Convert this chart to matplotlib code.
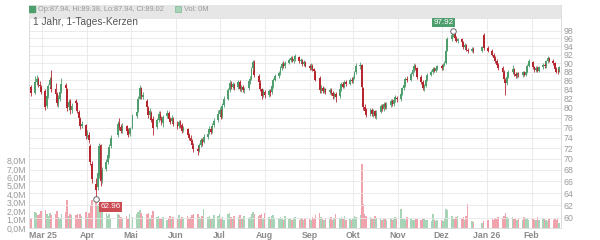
import datetime as dt
import matplotlib
matplotlib.use("Agg")
import matplotlib.pyplot as plt
import matplotlib.dates as mdates
import matplotlib.ticker as mtick
import numpy as np
import pandas as pd

plt.rcParams['font.family'] = ['Liberation Sans', 'DejaVu Sans']

# one row per trading week
opens = [
    84.5,
    83.3, 85.6, 86.3, 85.0, 84.6,
    83.6, 80.5, 82.6, 85.0, 86.5,
    84.0, 83.0, 80.8, 82.0, 83.6,
    85.0, 84.0, 80.2, 81.5, 79.5,
    81.5, 81.0, 79.2, 77.8, 76.3,
    76.5, 74.5, 74.6, 72.5, 69.0,
    65.5, 65.0, 67.0, 72.6, 66.2,
    68.2, 69.4, 70.6, 72.4,
    74.5, 77.0, 76.2, 75.4,
    76.3, 75.3, 74.8, 76.0,
    78.4, 79.5, 82.0, 84.2, 82.4,
    81.5, 80.0, 78.5, 79.0, 77.8,
    76.2, 77.6, 78.8, 77.8, 77.0,
    78.4, 79.0, 77.8, 77.4, 77.8,
    76.8, 76.3, 77.2, 76.5, 75.5,
    75.8, 74.6, 74.0, 73.3, 72.5,
    71.9, 71.6, 72.6, 73.5, 73.2,
    74.2, 75.0, 75.8, 75.3, 76.5,
    77.5, 78.8, 79.5, 78.3, 80.6,
    82.0, 83.8, 85.3, 84.6, 85.0,
    84.5, 85.6, 84.0, 84.6, 83.8,
    84.2, 85.8, 86.3, 88.8, 90.3,
    87.0, 85.5, 84.0, 82.8, 83.4,
    82.8, 83.6, 83.4, 84.8, 86.2,
    87.0, 87.6, 88.8, 89.8, 89.2,
    90.0, 90.8, 91.2, 90.6, 91.0,
    91.4, 90.4, 90.8, 89.8, 90.3,
    89.4, 88.8, 89.4, 88.6, 88.0,
    86.5, 83.8, 84.2, 83.6, 84.0,
    83.4, 83.8, 83.2, 82.6, 83.0,
    82.6, 84.0, 85.2, 84.6, 85.6,
    85.3, 86.2, 85.8, 86.6, 87.8,
    89.2, 89.5, 84.2, 80.2, 79.5,
    78.8, 79.5, 78.8, 79.3, 78.4,
    79.2, 80.4, 79.8, 80.8, 80.2,
    80.6, 81.4, 80.9, 81.6, 82.2,
    81.9, 83.0, 84.2, 85.0, 86.4,
    86.2, 87.4, 88.4, 89.4, 88.8,
    86.8, 85.6, 84.2, 84.8, 86.2,
    87.2, 87.8, 88.6, 88.2, 88.8,
    89.2, 88.8, 89.6, 90.0, 93.0,
    95.8, 96.8, 97.2, 96.0, 95.4,
    95.8, 95.0, 93.9, 94.4, 93.2,
    93.0, 93.4, 93.0, 96.8,
    93.6, 93.0, 92.0, 91.2, 90.6, 89.6,
    88.8, 88.0, 86.2, 85.4, 86.8,
    87.8, 88.6, 87.4, 87.0, 87.6,
    87.2, 87.8, 87.3, 88.0, 89.4,
    90.2, 89.0, 88.4, 88.9, 88.2,
    89.0, 89.6, 89.2, 90.4, 91.2,
    90.6, 90.0, 88.6, 88.0, 87.94,
]
highs = [
    85.0,
    87.0, 87.3, 86.8, 85.8, 85.0,
    84.0, 83.0, 85.3, 86.8, 88.4,
    85.5, 83.5, 82.8, 84.2, 86.5,
    85.5, 84.3, 81.8, 81.8, 81.0,
    82.0, 81.3, 79.5, 78.2, 77.4,
    76.8, 75.6, 75.1, 72.8, 69.6,
    66.6, 68.0, 73.0, 72.8, 68.6,
    70.0, 71.3, 72.8, 74.6,
    77.4, 78.0, 76.8, 76.9,
    76.6, 75.9, 76.2, 78.8,
    79.8, 82.5, 85.0, 84.6, 83.5,
    82.0, 80.4, 79.9, 79.4, 78.4,
    78.0, 79.4, 79.3, 78.3, 78.6,
    79.6, 79.3, 78.1, 78.5, 78.2,
    77.3, 77.6, 77.5, 76.9, 76.4,
    76.0, 75.0, 74.5, 73.7, 72.9,
    72.5, 73.0, 74.0, 74.0, 74.8,
    75.4, 76.3, 76.2, 76.9, 77.9,
    79.5, 80.2, 79.8, 81.0, 82.5,
    84.3, 86.0, 85.8, 85.7, 85.4,
    86.2, 86.0, 85.0, 85.0, 84.6,
    86.3, 87.0, 89.0, 90.8, 90.7,
    87.4, 86.0, 84.4, 84.1, 83.9,
    84.0, 84.0, 85.2, 86.6, 87.5,
    88.2, 89.3, 90.3, 90.4, 90.6,
    91.3, 91.8, 91.6, 91.5, 92.2,
    91.7, 91.2, 91.0, 90.7, 90.6,
    89.8, 89.9, 89.7, 88.9, 88.4,
    86.9, 84.9, 84.7, 84.6, 84.4,
    84.3, 84.2, 83.6, 83.5, 83.4,
    84.4, 85.6, 85.7, 86.0, 86.2,
    86.6, 86.7, 87.0, 88.2, 89.9,
    90.3, 89.8, 84.6, 80.8, 80.0,
    80.1, 80.0, 79.8, 79.6, 79.5,
    80.8, 80.9, 81.2, 81.3, 81.2,
    81.9, 81.8, 82.2, 82.8, 82.6,
    83.4, 84.6, 85.5, 86.8, 87.0,
    87.8, 88.9, 89.9, 89.8, 89.0,
    87.2, 86.0, 85.3, 86.6, 87.6,
    88.3, 89.0, 89.0, 89.2, 89.6,
    89.7, 90.0, 90.5, 93.2, 96.3,
    97.3, 97.92, 97.5, 96.5, 96.2,
    96.1, 95.3, 94.8, 94.7, 93.6,
    93.8, 93.8, 94.2, 97.4,
    94.0, 93.3, 92.4, 91.6, 91.0, 90.0,
    89.2, 88.3, 86.6, 87.2, 88.3,
    89.6, 88.9, 87.9, 88.0, 88.0,
    88.2, 88.2, 88.4, 89.8, 91.0,
    90.5, 89.4, 89.3, 89.2, 89.4,
    90.0, 90.0, 90.8, 91.7, 91.5,
    91.0, 90.3, 89.0, 88.5, 89.38,
]
lows = [
    82.5,
    83.0, 85.0, 84.5, 83.9, 83.0,
    79.5, 80.0, 82.2, 84.6, 83.5,
    82.5, 80.4, 80.2, 81.5, 83.2,
    83.5, 79.3, 79.5, 78.8, 78.9,
    80.5, 78.9, 77.3, 75.8, 75.9,
    73.8, 73.9, 73.0, 68.8, 65.8,
    62.96, 64.5, 66.5, 65.2, 65.8,
    67.8, 69.0, 70.2, 72.0,
    74.2, 75.6, 74.9, 75.0,
    74.9, 74.2, 74.4, 75.8,
    77.9, 79.2, 81.8, 82.0, 81.8,
    79.8, 78.0, 78.1, 77.1, 74.5,
    75.8, 77.2, 77.5, 76.6, 76.2,
    78.0, 77.4, 76.8, 76.9, 76.4,
    75.7, 75.9, 76.0, 75.0, 75.1,
    74.2, 73.5, 72.9, 72.1, 71.2,
    70.8, 71.2, 72.2, 72.5, 72.9,
    73.8, 74.7, 74.8, 75.0, 76.1,
    77.1, 78.3, 77.8, 78.0, 80.3,
    81.6, 83.4, 84.1, 84.0, 83.8,
    84.0, 83.6, 83.5, 83.4, 83.2,
    83.9, 85.2, 86.0, 88.4, 86.8,
    85.0, 83.6, 82.0, 82.3, 82.2,
    82.3, 82.6, 83.0, 84.4, 85.8,
    86.6, 87.2, 88.4, 88.8, 88.9,
    89.7, 90.3, 90.2, 90.1, 90.6,
    90.0, 89.9, 89.4, 89.4, 89.0,
    88.4, 88.4, 88.2, 87.7, 85.8,
    83.3, 83.2, 83.1, 83.1, 82.9,
    82.9, 82.8, 82.0, 82.1, 81.2,
    82.2, 83.6, 84.2, 84.2, 84.8,
    85.0, 85.4, 85.4, 86.3, 87.5,
    88.7, 84.0, 79.6, 78.9, 78.2,
    78.3, 78.3, 78.2, 77.9, 77.8,
    78.9, 79.3, 79.4, 79.8, 79.8,
    80.2, 80.4, 80.5, 81.2, 81.2,
    81.5, 82.7, 83.8, 84.6, 85.6,
    85.9, 87.0, 88.0, 88.4, 86.4,
    85.2, 83.8, 83.6, 84.5, 85.8,
    86.9, 87.4, 87.8, 87.8, 88.4,
    88.4, 88.4, 89.2, 89.8, 92.8,
    95.4, 96.4, 95.6, 95.0, 94.9,
    94.6, 93.5, 93.5, 92.8, 92.5,
    92.6, 92.5, 92.7, 93.2,
    92.6, 91.6, 90.8, 90.1, 89.2, 88.3,
    87.5, 85.9, 82.8, 85.0, 86.5,
    87.4, 87.0, 86.6, 86.6, 86.8,
    86.8, 86.9, 86.9, 87.7, 89.0,
    88.6, 88.0, 88.0, 87.8, 87.8,
    88.6, 88.8, 88.9, 90.0, 90.2,
    89.6, 88.2, 87.6, 87.5, 87.94,
]
closes = [
    83.2,
    85.6, 86.3, 85.0, 84.8, 83.5,
    80.2, 82.5, 84.8, 86.2, 84.0,
    83.0, 81.0, 82.2, 83.5, 85.2,
    84.2, 80.0, 81.2, 79.5, 80.4,
    81.0, 79.3, 77.9, 76.3, 76.8,
    74.3, 74.9, 73.6, 69.5, 66.4,
    64.5, 67.5, 72.4, 66.0, 68.0,
    69.4, 70.8, 72.2, 74.0,
    76.8, 76.2, 75.4, 76.4,
    75.3, 74.6, 75.9, 78.3,
    79.2, 82.0, 84.4, 82.5, 82.8,
    80.2, 78.5, 79.3, 77.6, 76.0,
    77.6, 78.8, 78.0, 77.2, 78.2,
    78.9, 77.8, 77.2, 78.0, 76.8,
    76.2, 77.2, 76.5, 75.4, 75.9,
    74.6, 74.0, 73.4, 72.6, 71.8,
    71.5, 72.6, 73.5, 73.0, 74.2,
    74.8, 75.8, 75.2, 76.4, 77.4,
    78.8, 79.6, 78.2, 80.5, 82.0,
    83.8, 85.4, 84.6, 85.2, 84.2,
    85.6, 84.0, 84.5, 83.8, 84.0,
    85.8, 86.4, 88.6, 90.2, 87.2,
    85.6, 84.0, 82.6, 83.6, 82.8,
    83.6, 83.2, 84.8, 86.2, 87.0,
    87.6, 88.8, 89.8, 89.2, 90.0,
    90.8, 91.3, 90.6, 91.0, 91.6,
    90.4, 90.8, 89.8, 90.3, 89.4,
    88.8, 89.4, 88.6, 88.2, 86.2,
    83.8, 84.3, 83.6, 84.0, 83.4,
    83.8, 83.2, 82.6, 83.0, 82.4,
    84.0, 85.2, 84.6, 85.6, 85.2,
    86.2, 85.8, 86.6, 87.8, 89.4,
    89.6, 84.5, 80.2, 79.4, 78.6,
    79.6, 78.8, 79.2, 78.4, 79.0,
    80.4, 79.8, 80.8, 80.2, 80.6,
    81.4, 80.9, 81.6, 82.4, 81.8,
    83.0, 84.2, 85.0, 86.4, 86.0,
    87.4, 88.4, 89.4, 88.8, 86.8,
    85.6, 84.2, 84.8, 86.2, 87.2,
    87.8, 88.6, 88.2, 88.8, 89.2,
    88.8, 89.6, 90.0, 92.8, 95.8,
    96.8, 97.4, 96.0, 95.4, 95.8,
    95.0, 93.9, 94.4, 93.2, 93.0,
    93.4, 92.9, 93.8, 93.6,
    93.0, 92.0, 91.2, 90.6, 89.6, 88.8,
    88.0, 86.4, 85.4, 86.8, 87.8,
    88.6, 87.4, 87.0, 87.6, 87.2,
    87.8, 87.3, 88.0, 89.4, 90.4,
    89.0, 88.4, 88.9, 88.2, 89.0,
    89.6, 89.2, 90.4, 91.2, 90.6,
    90.0, 88.6, 88.0, 87.9, 89.02,
]
volumes = [  # millions
    1.2,
    1.9, 1.8, 1.5, 1.7, 2.0,
    2.1, 1.6, 1.4, 1.8, 1.5,
    1.7, 2.0, 1.3, 1.2, 1.6,
    1.9, 3.3, 1.4, 1.6, 1.5,
    1.5, 1.7, 1.2, 1.6, 1.4,
    1.9, 1.3, 1.8, 2.6, 3.3,
    3.6, 2.7, 2.9, 2.6, 1.9,
    1.8, 1.4, 1.6, 1.2,
    1.6, 1.5, 1.3, 1.1,
    1.4, 1.2, 1.6, 1.3,
    1.7, 1.9, 2.1, 1.8, 1.4,
    1.6, 1.8, 1.2, 1.5, 2.0,
    1.3, 1.4, 1.2, 1.1, 1.3,
    1.0, 1.2, 1.4, 1.1, 1.3,
    1.2, 1.5, 1.1, 1.3, 1.2,
    1.4, 1.2, 1.3, 1.5, 1.6,
    1.7, 1.3, 1.2, 1.4, 2.2,
    1.3, 1.4, 1.1, 1.2, 1.5,
    1.4, 1.6, 1.2, 1.3, 1.0,
    1.6, 1.8, 1.3, 1.2, 1.4,
    1.3, 1.5, 1.1, 1.2, 1.4,
    1.2, 1.3, 1.6, 1.9, 1.7,
    1.4, 1.5, 1.6, 1.2, 1.8,
    1.3, 1.1, 1.4, 1.5, 1.2,
    1.2, 1.3, 1.1, 1.0, 1.4,
    1.1, 1.2, 1.0, 1.1, 1.3,
    1.0, 1.2, 1.1, 0.9, 1.2,
    1.1, 1.0, 1.3, 1.2, 1.5,
    1.8, 1.3, 1.1, 1.0, 1.2,
    1.1, 1.3, 1.0, 1.2, 1.7,
    1.2, 1.3, 1.1, 1.4, 1.0,
    1.1, 1.0, 1.2, 1.4, 1.3,
    1.5, 7.6, 2.9, 1.6, 1.4,
    1.3, 1.2, 1.1, 1.4, 1.2,
    1.1, 1.0, 1.2, 1.1, 0.9,
    1.2, 1.0, 1.1, 1.3, 1.2,
    2.3, 1.2, 1.1, 1.0, 1.3,
    1.1, 0.9, 1.0, 1.2, 1.1,
    1.0, 1.2, 1.1, 0.9, 1.0,
    0.8, 1.6, 0.9, 0.8, 1.0,
    0.9, 0.8, 1.2, 2.2, 2.1,
    1.4, 1.2, 1.1, 1.3, 1.4,
    1.2, 1.3, 1.0, 1.4, 2.9,
    0.8, 0.7, 0.6, 0.8,
    0.9, 1.1, 1.0, 1.2, 1.1, 1.3,
    1.2, 1.4, 1.8, 1.3, 1.2,
    1.3, 1.1, 1.2, 1.0, 1.1,
    1.0, 1.3, 1.1, 1.2, 1.0,
    1.1, 0.9, 1.0, 1.3, 1.0,
    1.2, 1.1, 1.0, 0.8, 1.1,
    1.0, 1.1, 0.9, 1.2, 0.6,
]
holidays = ["2025-04-18", "2025-04-21", "2025-05-01", "2025-12-24",
            "2025-12-25", "2025-12-26", "2025-12-31", "2026-01-01"]
month_labels = ["Mar 25", "Apr", "Mai", "Jun", "Jul", "Aug", "Sep", "Okt",
                "Nov", "Dez", "Jan 26", "Feb"]
price_ticks = list(range(60, 100, 2))
vol_ticks = [0, 1, 2, 3, 4, 5, 6, 7, 8]
header = "Op:87.94, Hi:89.38, Lo:87.94, Cl:89.02"
title = "1 Jahr, 1-Tages-Kerzen"
max_label, min_label = "97.92", "62.96"

days = pd.bdate_range("2025-02-21", "2026-02-20")
days = days[~days.isin(pd.to_datetime(holidays))]
x = mdates.date2num(days.to_pydatetime())
o, h, l, c = map(np.array, (opens, highs, lows, closes))
assert len(x) == len(o) == len(h) == len(l) == len(c) == len(volumes)
up = c >= o

GREEN, RED = "#4f9e6e", "#b5262f"
VGREEN, VRED = "#a7d3b6", "#f0a3ac"
GRID = "#e8e8e8"
TXT = "#9a9a9a"

fig = plt.figure(figsize=(6, 2.4), dpi=100)
axv = fig.add_axes([29 / 600, 12 / 240, 532 / 600, 223 / 240])
axp = axv.twinx()

# volume (left scale)
axv.bar(x, volumes, width=1.1, color=np.where(up, VGREEN, VRED), linewidth=0)
axv.set_ylim(0, 26.4)
axv.set_yticks(vol_ticks)
axv.yaxis.set_major_formatter(mtick.FuncFormatter(lambda v, p: f"{v:.1f}M".replace(".", ",")))

# candles (right, log scale)
axp.set_yscale("log")
axp.vlines(x, l, h, colors=np.where(up, GREEN, RED), linewidth=0.6)
axp.bar(x, np.maximum(np.abs(c - o), 0.08), bottom=np.minimum(o, c), width=1.3,
        color=np.where(up, GREEN, RED), linewidth=0)
axp.set_ylim(58.4, 104.8)
axp.set_yticks(price_ticks)
axp.yaxis.set_major_formatter(mtick.FuncFormatter(lambda v, p: f"{v:.0f}"))
axp.yaxis.set_minor_locator(mtick.NullLocator())
axp.grid(axis="y", color=GRID, linewidth=0.6)
axp.set_axisbelow(True)

months = [dt.date(2025, m, 1) for m in range(3, 13)] + [dt.date(2026, 1, 1), dt.date(2026, 2, 1)]
axv.set_xticks(mdates.date2num(months))
axv.set_xticklabels(month_labels)
axv.set_xlim(x[0] - 1.3, x[-1] + 1.3)
axv.grid(axis="x", color=GRID, linewidth=0.6)
axv.set_axisbelow(True)

for a in (axv, axp):
    a.tick_params(length=0, labelsize=6.3, labelcolor=TXT, pad=2)
    for s in a.spines.values():
        s.set_color("#dddddd")
        s.set_linewidth(0.6)
axv.tick_params(axis="x", labelcolor="#8a8a8a", pad=2.5)
for t in axv.get_xticklabels():
    t.set_fontweight("bold")

# header bar
axp.axhspan(101.0, 104.8, color="#e6e6e6", linewidth=0, zorder=5)
axp.plot([0.006], [0.982], "s", transform=axp.transAxes, ms=4, color=GREEN, zorder=6)
axp.text(0.016, 0.982, header, transform=axp.transAxes, fontsize=5.3, color=TXT,
         va="center", zorder=6)
axp.plot([0.281], [0.982], "s", transform=axp.transAxes, ms=4, mfc=VGREEN, mec="#7fb894",
         mew=0.5, zorder=6)
axp.text(0.291, 0.982, "Vol: 0M", transform=axp.transAxes, fontsize=5.3, color=TXT,
         va="center", zorder=6)
axp.text(0.008, 0.945, title, transform=axp.transAxes, fontsize=7.3, color="#555555",
         va="top", zorder=6)

# extreme markers
imax, imin = int(np.argmax(h)), int(np.argmin(l))
axp.plot(x[imax], h[imax], "o", ms=4, mfc="white", mec="#666666", mew=0.7, zorder=7)
axp.annotate(max_label, (x[imax], h[imax]), xytext=(-7, 3.5), textcoords="offset points",
             ha="center", va="bottom", fontsize=5.8, color="white", zorder=8,
             bbox=dict(boxstyle="square,pad=0.18", fc="#4f9e6e", ec="none"))
axp.plot(x[imin], l[imin], "o", ms=4, mfc="white", mec="#666666", mew=0.7, zorder=7)
axp.annotate(min_label, (x[imin], l[imin]), xytext=(3, -3), textcoords="offset points",
             ha="left", va="top", fontsize=5.8, color="white", zorder=8,
             bbox=dict(boxstyle="square,pad=0.18", fc="#cc4a52", ec="none"))

fig.savefig("out.png", dpi=100)
